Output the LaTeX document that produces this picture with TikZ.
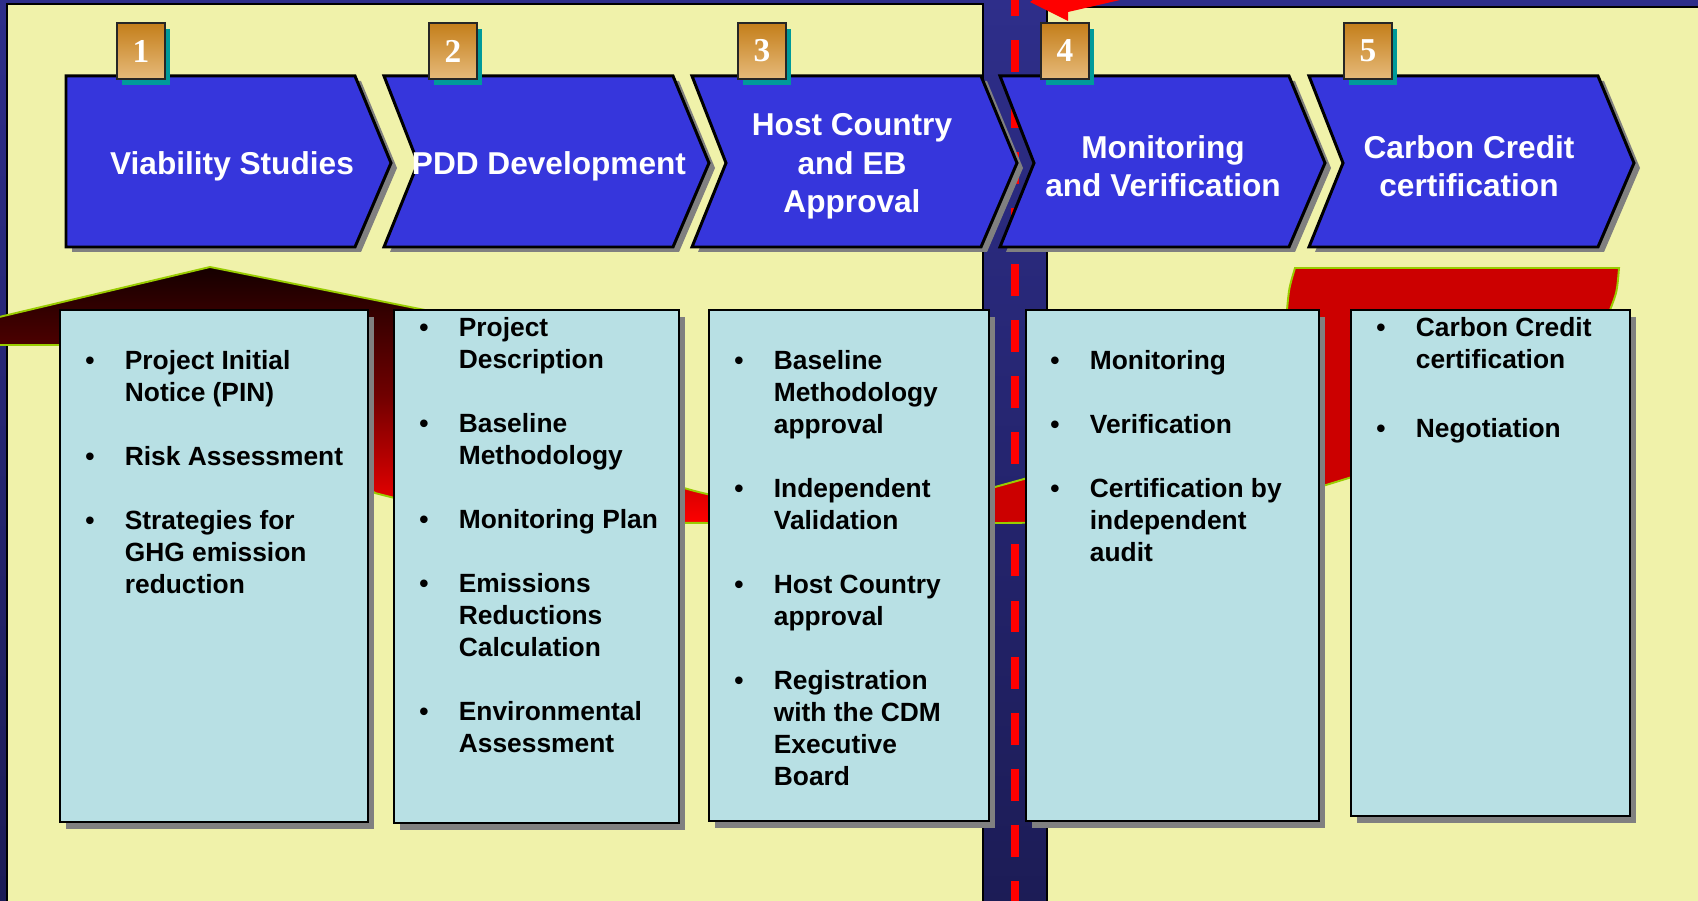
\documentclass[tikz,border=0pt]{standalone}
\usepackage{fontspec}
\setmainfont{Liberation Sans}
\newfontfamily\numfont{Liberation Serif}

\definecolor{navytop}{HTML}{2E2E8A}
\definecolor{navybot}{HTML}{1C1C56}
\definecolor{paneyellow}{HTML}{F0F2AA}
\definecolor{chevblue}{HTML}{3636DC}
\definecolor{cardcyan}{HTML}{B8E0E4}
\definecolor{dropgrey}{HTML}{808080}
\definecolor{rimgreen}{HTML}{99CC00}
\definecolor{bandtop}{HTML}{150000}
\definecolor{bandmid}{HTML}{700000}
\definecolor{tailred}{HTML}{CC0000}
\definecolor{medaltop}{HTML}{C47E1A}
\definecolor{medalbot}{HTML}{E6BA7A}
\definecolor{medaldrop}{HTML}{009A9A}

\newcommand*{\gap}{\\[18.2pt]}

\begin{document}
\begin{tikzpicture}[%
        x = 0.02cm, y = -0.02cm,
        head/.style = {text = white, align = center, inner sep = 0pt,
            font = \bfseries\fontsize{18}{21.9}\selectfont},
        body/.style = {anchor = base west, inner sep = 0pt,
            font = \bfseries\fontsize{15}{18.2}\selectfont},
        badge/.style = {text = white, inner sep = 0pt,
            font = \numfont\bfseries\fontsize{19}{19}\selectfont},
        chev/.style = {fill = chevblue, draw = black, line width = 1.7pt},
        card/.style = {fill = cardcyan, draw = black, line width = 1.4pt},
        drop/.style = {fill = dropgrey},
        medal/.style = {top color = medaltop, bottom color = medalbot,
            draw = black!85, line width = 0.6pt},
        rim/.style = {draw = rimgreen, line width = 1.1pt}
    ]

        \useasboundingbox (0,0) rectangle (1698,901);

        % Frame, the two panels and the road between them.
        \shade[top color = navytop, bottom color = navybot] (0,0) rectangle (1698,901);
        \filldraw[fill = paneyellow, draw = black, line width = 0.8pt] (7,4) rectangle (983,910);
        \filldraw[fill = paneyellow, draw = black, line width = 0.8pt] (1047,7) rectangle (1710,910);
        \draw[red, line width = 4.6pt, dash pattern = on 18.2pt off 13.7pt] (1015,-16) -- (1015,920);

        % The big red arrow behind the cards.
        \shadedraw[top color = bandtop, bottom color = red, middle color = bandmid, rim]
            (-5,318) -- (210,267) -- (430,311) -- (600,440) -- (684,488)
            .. controls (740,505) and (800,505) .. (860,503) -- (860,524)
            -- (560,522) .. controls (470,515) and (420,505) .. (375,493)
            -- (300,430) -- (60,345) -- (-5,345) -- cycle;
        \filldraw[fill = tailred, rim]
            (850,503) -- (995,487) -- (1024,479) -- (1200,430) -- (1280,350)
            -- (1287,310) .. controls (1289,288) .. (1295,268) -- (1619,268)
            .. controls (1617,292) .. (1610,310) -- (1560,410) -- (1352,477)
            -- (1326,485) .. controls (1200,510) and (1100,523) .. (1000,523)
            -- (850,524) -- cycle;
        \fill[red] (1030,2) -- (1068,21) -- (1068,12) -- (1120,0) -- (1120,-5) -- (1040,-5) -- cycle;

        % Command for one chevron with its shadow; #1 is the depth of its notch.
        \newcommand*{\defchevron}[1]{%
            \fill[drop] (6,81) -- (295,81) -- (331,168) -- (295,252) -- (6,252) -- (#1+6,168) -- cycle;
            \draw[chev] (0,76) -- (289,76) -- (325,163) -- (289,247) -- (0,247) -- (#1,163) -- cycle;
        }
        % Command for one numbered badge; #1 is its left edge, #2 its number.
        \newcommand*{\defbadge}[2]{%
            \fill[medaldrop] (#1+5,29) rectangle (#1+53,85);
            \shadedraw[medal] (#1,23) rectangle (#1+48,79);
            \node (n#2) at (#1+24,51) [badge] {#2};
        }
        % Command for one card with its shadow.
        \newcommand*{\defcard}[3]{%
            \fill[drop] (#1+6,317) rectangle (#2+6,#3+7);
            \draw[card] (#1,310) rectangle (#2,#3);
        }

        \begin{scope}[shift = {(66,0)}]
            \defchevron{0}
            \defbadge{51}{1}
            \node (s1) at (166,166.5) [head] {Viability Studies};
        \end{scope}

        \begin{scope}[shift = {(384,0)}]
            \defchevron{34}
            \defbadge{45}{2}
            \node (s2) at (165,166.5) [head] {PDD Development};
        \end{scope}

        \begin{scope}[shift = {(692,0)}]
            \defchevron{34}
            \defbadge{46}{3}
            \node (s3) at (160,166.5) [head] {Host Country\\and EB\\Approval};
        \end{scope}

        \begin{scope}[shift = {(1000,0)}]
            \defchevron{34}
            \defbadge{41}{4}
            \node (s4) at (163,166) [head] {Monitoring\\and Verification};
        \end{scope}

        \begin{scope}[shift = {(1309,0)}]
            \defchevron{34}
            \defbadge{35}{5}
            \node (s5) at (160,166) [head] {Carbon Credit\\certification};
        \end{scope}

        % Cards with the tasks of each stage.
        \defcard{60}{368}{822}
        \defcard{394}{679}{823}
        \defcard{709}{989}{821}
        \defcard{1026}{1319}{821}
        \defcard{1351}{1630}{816}

        \node (t1) at (85,370) [body] {\begin{tabular}[t]{@{}p{22.5pt}@{}l@{}}
            \textbullet & Project Initial\\
            & Notice (PIN)\gap
            \textbullet & Risk Assessment\gap
            \textbullet & Strategies for\\
            & GHG emission\\
            & reduction
        \end{tabular}};
        \node (t2) at (419,337) [body] {\begin{tabular}[t]{@{}p{22.5pt}@{}l@{}}
            \textbullet & Project\\
            & Description\gap
            \textbullet & Baseline\\
            & Methodology\gap
            \textbullet & Monitoring Plan\gap
            \textbullet & Emissions\\
            & Reductions\\
            & Calculation\gap
            \textbullet & Environmental\\
            & Assessment
        \end{tabular}};
        \node (t3) at (734,370) [body] {\begin{tabular}[t]{@{}p{22.5pt}@{}l@{}}
            \textbullet & Baseline\\
            & Methodology\\
            & approval\gap
            \textbullet & Independent\\
            & Validation\gap
            \textbullet & Host Country\\
            & approval\gap
            \textbullet & Registration\\
            & with the CDM\\
            & Executive\\
            & Board
        \end{tabular}};
        \node (t4) at (1050,370) [body] {\begin{tabular}[t]{@{}p{22.5pt}@{}l@{}}
            \textbullet & Monitoring\gap
            \textbullet & Verification\gap
            \textbullet & Certification by\\
            & independent\\
            & audit
        \end{tabular}};
        \node (t5) at (1376,337) [body] {\begin{tabular}[t]{@{}p{22.5pt}@{}l@{}}
            \textbullet & Carbon Credit\\
            & certification\\[21pt]
            \textbullet & Negotiation
        \end{tabular}};
    \end{tikzpicture}
\end{document}
